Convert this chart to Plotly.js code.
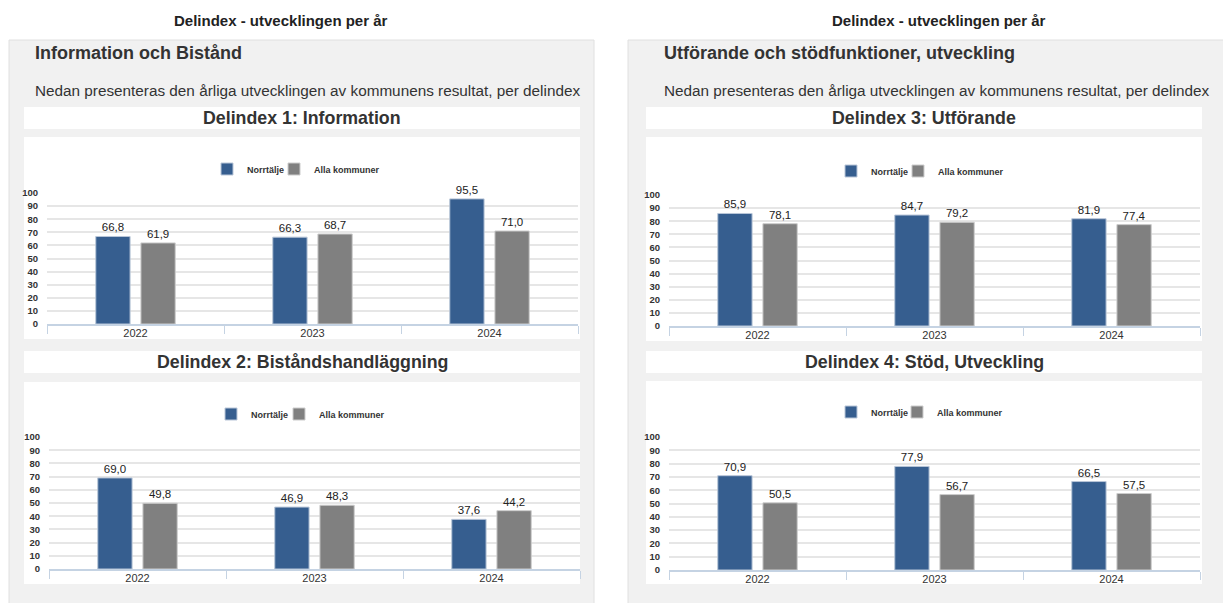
<!DOCTYPE html>
<html>
<head>
<meta charset="utf-8">
<script src="https://cdn.plot.ly/plotly-3.0.1.min.js"></script>
<style>
html, body { margin: 0; padding: 0; background: #ffffff; }
#chart { width: 1223px; height: 603px; }
</style>
</head>
<body>
<div id="chart"></div>
<script>
// ---- data ----
const years = ['2022', '2023', '2024'];
const seriesNames = ['Norrtälje', 'Alla kommuner'];
const d1Norrtalje = [66.8, 66.3, 95.5];
const d1Alla = [61.9, 68.7, 71.0];
const d2Norrtalje = [69.0, 46.9, 37.6];
const d2Alla = [49.8, 48.3, 44.2];
const d3Norrtalje = [85.9, 84.7, 81.9];
const d3Alla = [78.1, 79.2, 77.4];
const d4Norrtalje = [70.9, 77.9, 66.5];
const d4Alla = [50.5, 56.7, 57.5];
const chartTitles = ['Delindex 1: Information', 'Delindex 2: Biståndshandläggning', 'Delindex 3: Utförande', 'Delindex 4: Stöd, Utveckling'];
const pageTitle = 'Delindex - utvecklingen per år';
const panelTitles = ['Information och Bistånd', 'Utförande och stödfunktioner, utveckling'];
const introText = 'Nedan presenteras den årliga utvecklingen av kommunens resultat, per delindex';

// ---- geometry helpers (pixels -> paper) ----
const W = 1223, H = 603;
const px = x => x / W;
const py = y => 1 - y / H;
const FONT = 'Liberation Sans, Arial, sans-serif';
const BLUE = '#365e8f', GREY = '#808080';

const charts = [
  { n: d1Norrtalje, a: d1Alla, xd: [47, 578], yd: [193, 324], box: [24, 580, 137, 339], strip: [24, 580, 107, 129], legX: [207, 274], legY: 169 },
  { n: d2Norrtalje, a: d2Alla, xd: [49, 580], yd: [437, 569], box: [24, 580, 382, 584], strip: [24, 580, 351, 373], legX: [211, 279], legY: 414 },
  { n: d3Norrtalje, a: d3Alla, xd: [669, 1200], yd: [195, 326], box: [646, 1202, 137, 341], strip: [646, 1202, 107, 129], legX: [831, 898], legY: 171 },
  { n: d4Norrtalje, a: d4Alla, xd: [669, 1200], yd: [437, 570], box: [646, 1202, 381, 584], strip: [646, 1202, 351, 373], legX: [831, 897], legY: 412 }
];

const data = [];
const layout = {
  width: W, height: H,
  margin: { l: 0, r: 0, t: 0, b: 0 },
  paper_bgcolor: '#ffffff',
  plot_bgcolor: 'rgba(0,0,0,0)',
  separators: ', ',
  barmode: 'group',
  bargap: 0.49,
  bargroupgap: 0.24,
  showlegend: true,
  font: { family: FONT, color: '#333333' },
  shapes: [],
  annotations: []
};

// panels
layout.shapes.push({ type: 'rect', xref: 'paper', yref: 'paper', layer: 'below',
  x0: px(9), x1: px(594), y0: py(40), y1: py(615), fillcolor: '#f1f1f1', line: { color: '#e0e0e0', width: 1 } });
layout.shapes.push({ type: 'rect', xref: 'paper', yref: 'paper', layer: 'below',
  x0: px(628), x1: px(1230), y0: py(40), y1: py(615), fillcolor: '#f1f1f1', line: { color: '#e0e0e0', width: 1 } });

// page titles
[281, 939].forEach(cx => layout.annotations.push({
  xref: 'paper', yref: 'paper', x: px(cx), y: py(21), xanchor: 'center', yanchor: 'middle',
  text: pageTitle, showarrow: false, font: { family: FONT, size: 15, weight: 'bold', color: '#222222' }
}));
// panel titles + intro
[[33, 0], [662, 1]].forEach(([lx, i]) => {
  layout.annotations.push({ xref: 'paper', yref: 'paper', x: px(lx), y: py(53), xanchor: 'left', yanchor: 'middle',
    text: panelTitles[i], showarrow: false, font: { family: FONT, size: 18, weight: 'bold', color: '#333333' } });
  layout.annotations.push({ xref: 'paper', yref: 'paper', x: px(lx), y: py(91), xanchor: 'left', yanchor: 'middle',
    text: introText, showarrow: false, font: { family: FONT, size: 15.3, color: '#333333' } });
});

charts.forEach((c, i) => {
  const k = i + 1;
  const xa = k === 1 ? 'x' : 'x' + k;
  const ya = k === 1 ? 'y' : 'y' + k;
  // white boxes
  layout.shapes.push({ type: 'rect', xref: 'paper', yref: 'paper', layer: 'below',
    x0: px(c.strip[0]), x1: px(c.strip[1]), y0: py(c.strip[3]), y1: py(c.strip[2]), fillcolor: '#ffffff', line: { width: 0 } });
  layout.shapes.push({ type: 'rect', xref: 'paper', yref: 'paper', layer: 'below',
    x0: px(c.box[0]), x1: px(c.box[1]), y0: py(c.box[3]), y1: py(c.box[2]), fillcolor: '#ffffff', line: { width: 0 } });
  layout.annotations.push({ xref: 'paper', yref: 'paper', x: px((c.strip[0] + c.strip[1]) / 2), y: py((c.strip[2] + c.strip[3]) / 2),
    xanchor: 'center', yanchor: 'middle', text: chartTitles[i], showarrow: false,
    font: { family: FONT, size: 17.8, weight: 'bold', color: '#333333' } });

  [[c.n, BLUE, '#b9c6d8', seriesNames[0]], [c.a, GREY, '#cccccc', seriesNames[1]]].forEach(([vals, col, lc, name], s) => {
    const legIdx = i * 2 + s + 1;
    const leg = legIdx === 1 ? 'legend' : 'legend' + legIdx;
    data.push({
      type: 'bar', x: years, y: vals, name: name, xaxis: xa, yaxis: ya, legend: leg,
      showlegend: true,
      marker: { color: col, line: { color: lc, width: 1 } },
      texttemplate: '%{y:.1f}', textposition: 'outside', cliponaxis: false,
      textfont: { family: FONT, size: 11.5, color: '#222222' },
      hoverinfo: 'x+y+name'
    });
    layout[leg] = {
      visible: true,
      orientation: 'h', x: px(c.legX[s]), y: py(c.legY), xanchor: 'left', yanchor: 'middle',
      xref: 'paper', yref: 'paper', bgcolor: 'rgba(0,0,0,0)', borderwidth: 0,
      itemwidth: 30,
      font: { family: FONT, size: 9, weight: 'bold', color: '#333333' },
      itemclick: false, itemdoubleclick: false
    };
  });

  layout[xa === 'x' ? 'xaxis' : 'xaxis' + k] = {
    domain: [px(c.xd[0]), px(c.xd[1])], anchor: ya, type: 'category',
    tickson: 'boundaries', ticks: 'outside', ticklen: 8, tickwidth: 1, tickcolor: '#c5d3e3',
    showline: true, linecolor: '#c5d3e3', linewidth: 1.5, showgrid: false, zeroline: false,
    ticklabelstandoff: -2,
    tickfont: { family: FONT, size: 11, color: '#333333' }, fixedrange: true
  };
  layout[ya === 'y' ? 'yaxis' : 'yaxis' + k] = {
    domain: [py(c.yd[1]), py(c.yd[0])], anchor: xa, range: [0, 100], dtick: 10, tick0: 0,
    showgrid: true, gridcolor: '#e6e6e6', gridwidth: 2, zeroline: false, showline: false,
    ticks: 'outside', ticklen: 6, tickcolor: 'rgba(0,0,0,0)',
    tickfont: { family: FONT, size: 9.5, weight: 'bold', color: '#333333' }, fixedrange: true
  };
});

Plotly.newPlot('chart', data, layout, { displayModeBar: false, responsive: false });
</script>
</body>
</html>
